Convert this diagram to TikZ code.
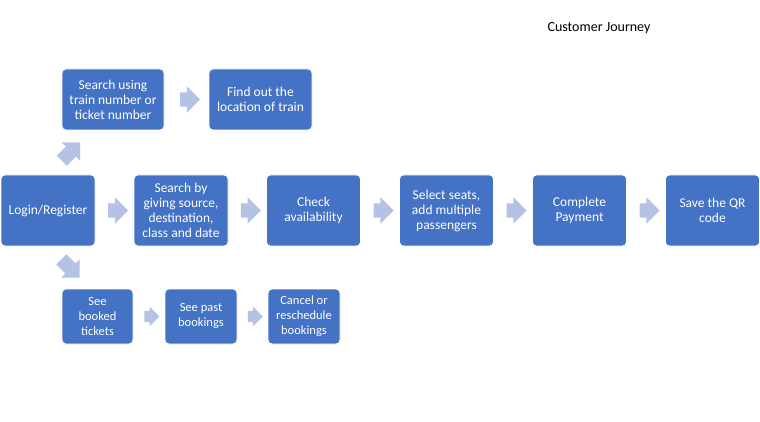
\documentclass[tikz,border=0pt]{standalone}
\usepackage{fontspec}
\setmainfont{Carlito}
\usepackage[dvipsnames,svgnames,x11names]{xcolor}
\usetikzlibrary{shapes.arrows,calc}
\definecolor{stepblue}{HTML}{4472C4}
\definecolor{arrowblue}{HTML}{B4C3E3}

\begin{document}
\begin{tikzpicture}[x=1pt,y=-1pt,font=\fontsize{13.5}{15}\selectfont,
  stepbox/.style={rectangle,rounded corners=4pt,fill=stepblue,draw=white,line width=0.75pt,text=white,align=center,inner sep=2pt},
  mainbox/.style={stepbox,minimum width=94pt,minimum height=71pt},
  smallbox/.style={stepbox,minimum width=72pt,minimum height=55pt,font=\fontsize{12.5}{15}\selectfont},
  blockarrow/.style={single arrow,fill=arrowblue,draw=none,inner xsep=0pt,inner ysep=7pt,minimum height=20pt,single arrow head extend=6pt,single arrow head indent=0pt},
  smallarrow/.style={blockarrow,minimum height=15pt,inner ysep=5.5pt,single arrow head extend=4pt}]
\useasboundingbox (0,0) rectangle (760,422);
\node[text=black,font=\fontsize{14}{15}\selectfont] (title) at (599,28) {Customer Journey};
\node[stepbox,minimum width=102pt,minimum height=61pt] (trainsearch) at (113,99.5) {Search using\\train number or\\ticket number};
\node[stepbox,minimum width=103pt,minimum height=61pt] (location) at (260.5,99.5) {Find out the\\location of train};
\node[mainbox] (login) at (48,210.5) {Login/Register};
\node[mainbox] (journeysearch) at (181,210.5) {Search by\\giving source,\\destination,\\class and date};
\node[mainbox] (availability) at (313.5,210.5) {Check\\availability};
\node[mainbox] (seats) at (446.5,210.5) {Select seats,\\add multiple\\passengers};
\node[mainbox] (payment) at (579.5,210.5) {Complete\\Payment};
\node[mainbox] (qrcode) at (712.5,210.5) {Save the QR\\code};
\node[smallbox,minimum width=71pt] (booked) at (97.5,316.5) {See\\booked\\tickets};
\node[smallbox] (past) at (201,316.5) {See past\\bookings};
\node[smallbox] (cancel) at (304,316.5) {Cancel or\\reschedule\\bookings};
\node[blockarrow,minimum height=26pt,rotate=45] (up) at (68.5,154) {};
\node[blockarrow,minimum height=26pt,rotate=-45] (down) at (68,266) {};
\node[blockarrow] (a1) at ($(trainsearch.east)!0.5!(location.west)$) {};
\node[blockarrow] (a2) at ($(login.east)!0.5!(journeysearch.west)$) {};
\node[blockarrow] (a3) at ($(journeysearch.east)!0.5!(availability.west)$) {};
\node[blockarrow] (a4) at ($(availability.east)!0.5!(seats.west)$) {};
\node[blockarrow] (a5) at ($(seats.east)!0.5!(payment.west)$) {};
\node[blockarrow] (a6) at ($(payment.east)!0.5!(qrcode.west)$) {};
\node[smallarrow] (b1) at ($(booked.east)!0.5!(past.west)$) {};
\node[smallarrow] (b2) at ($(past.east)!0.5!(cancel.west)$) {};
\end{tikzpicture}
\end{document}
